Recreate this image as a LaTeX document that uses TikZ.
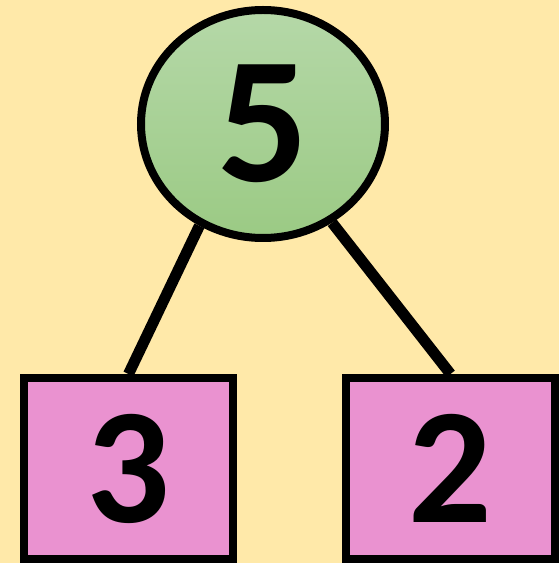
\documentclass[tikz,border=0pt]{standalone}
\usepackage{fontspec}
\setmainfont{Carlito}
\usetikzlibrary{shapes.geometric}
\definecolor{bgyellow}{HTML}{FFE9A9}
\definecolor{greentop}{HTML}{B5D8A8}
\definecolor{greenbot}{HTML}{9BCA84}
\definecolor{boxpink}{HTML}{EA92D0}
\pgfdeclarelayer{bglayer}
\pgfdeclarelayer{edgelayer}
\pgfsetlayers{bglayer,edgelayer,main}
\begin{document}
\begin{tikzpicture}[x=1pt,y=1pt,
  rootnode/.style={ellipse, draw=black, line width=8pt, top color=greentop, bottom color=greenbot,
    minimum width=244pt, minimum height=228pt, inner sep=0pt,
    font=\bfseries\fontsize{180}{180}\selectfont},
  leafnode/.style={rectangle, draw=black, line width=8pt, fill=boxpink,
    minimum width=209pt, minimum height=181pt, inner sep=0pt,
    font=\bfseries\fontsize{165}{165}\selectfont},
  edge/.style={draw=black, line width=11pt}]
\begin{pgfonlayer}{bglayer}
\fill[bgyellow] (0,0) rectangle (559,563);
\end{pgfonlayer}
\useasboundingbox (0,0) rectangle (559,563);
\node[rootnode] (root) at (263,439) {\raisebox{-9pt}{5}};
\node[leafnode] (left) at (128.5,94.5) {\raisebox{-7pt}{3}};
\node[leafnode] (right) at (450.5,94.5) {\raisebox{-7pt}{2}};
\begin{pgfonlayer}{edgelayer}
\draw[edge] (root.238) -- (left.north);
\draw[edge] (root.305) -- (right.north);
\end{pgfonlayer}
\end{tikzpicture}
\end{document}
